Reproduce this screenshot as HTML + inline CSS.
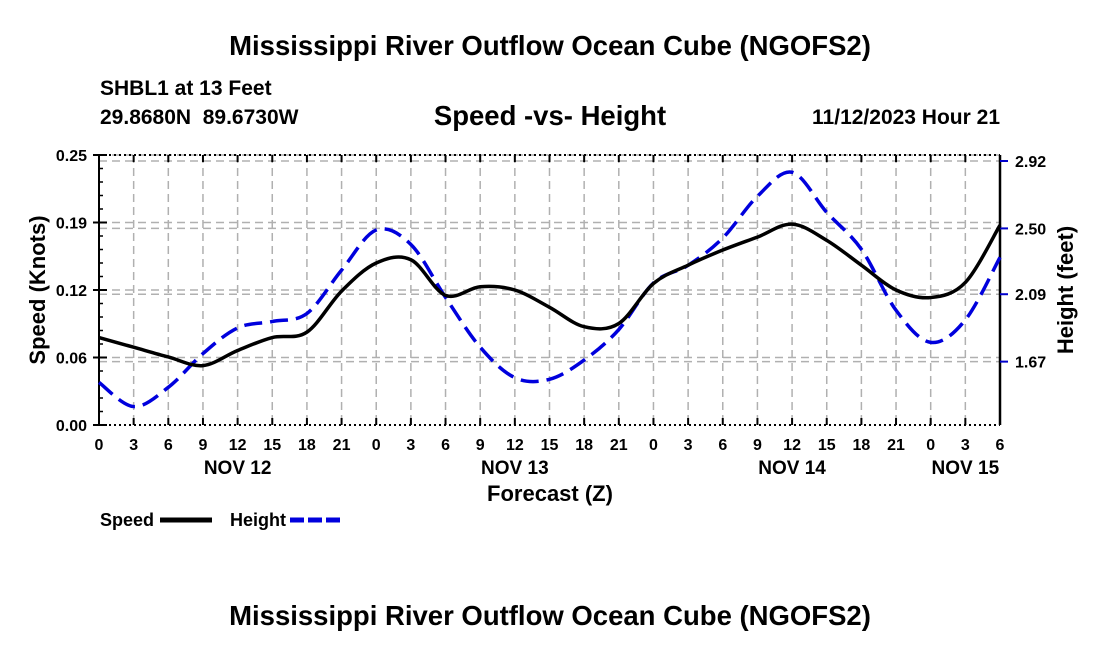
<!DOCTYPE html>
<html><head><meta charset="utf-8"><style>
body{margin:0;background:#fff;}
svg{display:block;font-family:"Liberation Sans",sans-serif;font-weight:bold;}
</style></head><body>
<svg id="chart" width="1100" height="650" viewBox="0 0 1100 650">
<text x="550" y="55" font-size="27.5" text-anchor="middle">Mississippi River Outflow Ocean Cube (NGOFS2)</text>
<text x="100" y="95" font-size="21">SHBL1 at 13 Feet</text>
<text x="100" y="124" font-size="21" xml:space="preserve">29.8680N  89.6730W</text>
<text x="550" y="125" font-size="27.5" text-anchor="middle">Speed -vs- Height</text>
<text x="1000" y="124" font-size="21" text-anchor="end">11/12/2023 Hour 21</text>
<g id="grid"></g>
<g id="axes"></g>
<g id="series"></g>
<text transform="translate(45,290) rotate(-90)" font-size="22" text-anchor="middle">Speed (Knots)</text>
<text transform="translate(1073,290) rotate(-90)" font-size="22" text-anchor="middle">Height (feet)</text>
<text x="550" y="501" font-size="22" text-anchor="middle">Forecast (Z)</text>
<g>
<text x="100" y="526" font-size="18">Speed</text>
<line x1="160" y1="520" x2="212" y2="520" stroke="#000" stroke-width="5"/>
<text x="230" y="526" font-size="18">Height</text>
<line x1="290" y1="520" x2="342" y2="520" stroke="#0000dd" stroke-width="5" stroke-dasharray="14,4"/>
</g>
<text x="550" y="625" font-size="27.5" text-anchor="middle">Mississippi River Outflow Ocean Cube (NGOFS2)</text>
</svg>
<script>
const hours=[0,3,6,9,12,15,18,21,24,27,30,33,36,39,42,45,48,51,54,57,60,63,66,69,72,75,78];
const speed=[0.081,0.072,0.063,0.055,0.069,0.081,0.086,0.124,0.150,0.153,0.120,0.128,0.125,0.109,0.091,0.094,0.131,0.148,0.162,0.174,0.186,0.171,0.148,0.125,0.118,0.132,0.185];
const height=[1.54,1.39,1.51,1.72,1.88,1.92,1.97,2.24,2.49,2.40,2.07,1.76,1.57,1.56,1.68,1.87,2.16,2.27,2.44,2.70,2.85,2.60,2.37,1.99,1.79,1.93,2.32];
const speedTicks=[0.0625,0.125,0.1875,0.25];
const speedTickLabels=["0.00","0.06","0.12","0.19","0.25"];
const heightTicks=[1.67,2.09,2.50,2.92];
const heightTickLabels=["1.67","2.09","2.50","2.92"];
const xTickLabels=["0","3","6","9","12","15","18","21","0","3","6","9","12","15","18","21","0","3","6","9","12","15","18","21","0","3","6"];
const dayLabels=["NOV 12","NOV 13","NOV 14","NOV 15"];
const dayHours=[12,36,60,75];

const L=99,R=1000,T=155,B=425;
const xS=h=>L+h*(R-L)/78;
const yS=s=>B-s*(B-T)/0.25;
const yH=f=>161+(2.92-f)*160.5;
const NS="http://www.w3.org/2000/svg";
function mk(tag,attrs,parent){const e=document.createElementNS(NS,tag);for(const k in attrs)e.setAttribute(k,attrs[k]);parent.appendChild(e);return e;}
const grid=document.getElementById('grid'),axes=document.getElementById('axes'),series=document.getElementById('series');
const gs={stroke:"#b0b0b0","stroke-width":1.5,"stroke-dasharray":"8,5"};
for(let i=0;i<xTickLabels.length;i++){
  const h=i*3,x=xS(h);
  if(i>0&&i<xTickLabels.length-1){const g=mk('line',Object.assign({x1:x,y1:T,x2:x,y2:B},gs),grid);
  
  }
  mk('line',{x1:x,y1:B,x2:x,y2:B-7,stroke:"#000","stroke-width":2},axes);
  mk('line',{x1:x,y1:T,x2:x,y2:T+7,stroke:"#000","stroke-width":2},axes);
  const t=mk('text',{x:x,y:450,"font-size":16,"text-anchor":"middle"},axes);t.textContent=xTickLabels[i];
  
  
}
for(let i=0;i<dayLabels.length;i++){
  const t=mk('text',{x:xS(dayHours[i]),y:474,"font-size":19,"text-anchor":"middle"},axes);t.textContent=dayLabels[i];
  
  
}
for(const s of speedTicks){const g=mk('line',Object.assign({x1:L,y1:yS(s),x2:R,y2:yS(s)},gs),grid);
  
  }
for(const f of heightTicks){const g=mk('line',Object.assign({x1:L,y1:yH(f),x2:R,y2:yH(f)},gs),grid);
  
  }
mk('line',{x1:L,y1:T,x2:R,y2:T,stroke:"#000","stroke-width":2,"stroke-dasharray":"2,3"},axes);
mk('line',{x1:L,y1:B,x2:R,y2:B,stroke:"#000","stroke-width":2,"stroke-dasharray":"2,3"},axes);
mk('line',{x1:L,y1:T,x2:L,y2:B,stroke:"#000","stroke-width":2},axes);
mk('line',{x1:R,y1:T,x2:R,y2:B,stroke:"#000","stroke-width":2.5},axes);
for(let v=0;v<=0.25001;v+=0.0125){mk('line',{x1:L,y1:yS(v),x2:L+4,y2:yS(v),stroke:"#000","stroke-width":1.5},axes);}
for(let i=0;i<speedTickLabels.length;i++){
  const v=i*0.0625,y=yS(v);
  mk('line',{x1:L-6,y1:y,x2:L+8,y2:y,stroke:"#000","stroke-width":2},axes);
  const t=mk('text',{x:L-12,y:y+6,"font-size":16,"text-anchor":"end"},axes);t.textContent=speedTickLabels[i];
  
  
}
for(let i=0;i<heightTicks.length;i++){
  const y=yH(heightTicks[i]);
  mk('line',{x1:R,y1:y,x2:R+8,y2:y,stroke:"#0000cc","stroke-width":2},axes);
  const t=mk('text',{x:R+15,y:y+6,"font-size":16},axes);t.textContent=heightTickLabels[i];
  
  
}
function smooth(pts){let d=`M${pts[0][0]},${pts[0][1]}`;
  for(let i=0;i<pts.length-1;i++){const p0=pts[Math.max(0,i-1)],p1=pts[i],p2=pts[i+1],p3=pts[Math.min(pts.length-1,i+2)];
    d+=` C${p1[0]+(p2[0]-p0[0])/6},${p1[1]+(p2[1]-p0[1])/6} ${p2[0]-(p3[0]-p1[0])/6},${p2[1]-(p3[1]-p1[1])/6} ${p2[0]},${p2[1]}`;}
  return d;}
const hp=mk('path',{d:smooth(hours.map((h,i)=>[xS(h),yH(height[i])])),fill:"none",stroke:"#0000dd","stroke-width":3.5,"stroke-dasharray":"18,8"},series);


const sp=mk('path',{d:smooth(hours.map((h,i)=>[xS(h),yS(speed[i])])),fill:"none",stroke:"#000","stroke-width":3.5},series);


</script>
</body></html>
